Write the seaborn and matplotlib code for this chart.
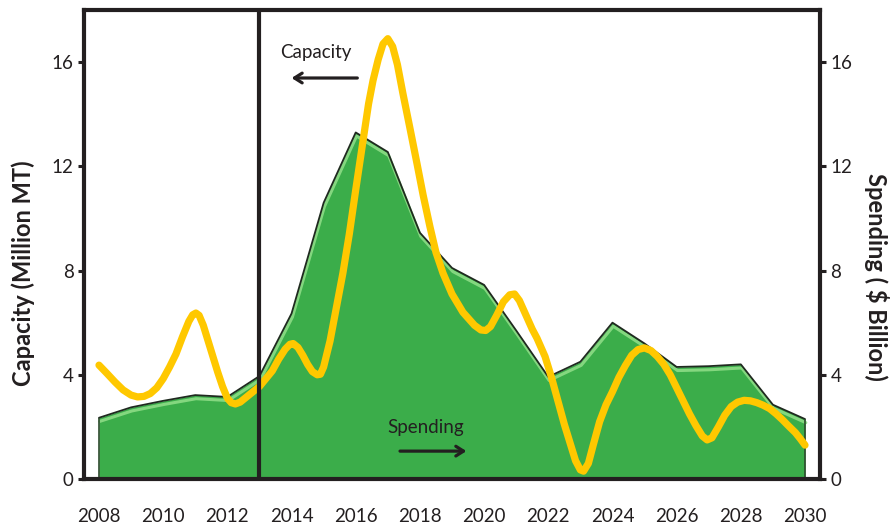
import matplotlib
matplotlib.use("Agg")
import matplotlib.pyplot as plt
import matplotlib.patheffects as pe
import seaborn as sns
import pandas as pd

# ---- data ----
spend_years = [2008, 2009, 2010, 2011, 2012, 2013, 2014, 2015, 2016, 2017, 2018,
               2019, 2020, 2021, 2022, 2023, 2024, 2025, 2026, 2027, 2028, 2029, 2030]
spending = [2.35, 2.75, 3.0, 3.22, 3.15, 3.95, 6.35, 10.6, 13.3, 12.55, 9.45,
            8.1, 7.45, 5.7, 3.92, 4.5, 6.0, 5.2, 4.3, 4.33, 4.4, 2.85, 2.3]

cap_years = [2008.0, 2008.25, 2008.5, 2008.75, 2009.0, 2009.2, 2009.4, 2009.6, 2009.8,
             2010.0, 2010.2, 2010.4, 2010.6, 2010.8, 2010.92, 2011.02, 2011.12, 2011.25,
             2011.4, 2011.55, 2011.7, 2011.85, 2012.0, 2012.12, 2012.25, 2012.4, 2012.6,
             2012.8, 2013.0, 2013.2, 2013.4, 2013.6, 2013.8, 2013.95, 2014.05, 2014.2,
             2014.35, 2014.5, 2014.65, 2014.8, 2014.9, 2015.0, 2015.2, 2015.4, 2015.6,
             2015.8, 2016.0, 2016.23, 2016.4, 2016.54, 2016.7, 2016.85, 2017.0, 2017.15,
             2017.3, 2017.47, 2017.7, 2017.91, 2018.1, 2018.31, 2018.5, 2018.72, 2019.0,
             2019.34, 2019.7, 2019.9, 2020.05, 2020.2, 2020.4, 2020.6, 2020.8, 2020.95,
             2021.1, 2021.3, 2021.5, 2021.65, 2021.9, 2022.1, 2022.3, 2022.5, 2022.7,
             2022.85, 2023.0, 2023.1, 2023.25, 2023.4, 2023.6, 2023.8, 2024.0, 2024.2,
             2024.4, 2024.6, 2024.8, 2025.0, 2025.2, 2025.4, 2025.6, 2025.8, 2026.0,
             2026.2, 2026.4, 2026.6, 2026.8, 2026.95, 2027.1, 2027.3, 2027.5, 2027.7,
             2027.9, 2028.1, 2028.3, 2028.5, 2028.7, 2028.9, 2029.1, 2029.3, 2029.5,
             2029.7, 2029.85, 2030.0]
capacity = [4.37, 4.05, 3.72, 3.42, 3.22, 3.15, 3.17, 3.28, 3.5,
            3.85, 4.3, 4.8, 5.45, 6.05, 6.3, 6.37, 6.28, 5.9,
            5.3, 4.7, 4.1, 3.55, 3.1, 2.93, 2.88, 2.95, 3.15,
            3.35, 3.55, 3.85, 4.15, 4.6, 4.98, 5.17, 5.2, 5.05,
            4.75, 4.4, 4.12, 4.0, 4.02, 4.3, 5.3, 6.6, 7.9,
            9.4, 11.1, 13.0, 14.4, 15.3, 16.1, 16.7, 16.9, 16.6,
            15.9, 14.8, 13.4, 12.1, 10.9, 9.7, 8.7, 7.9, 7.1,
            6.4, 5.9, 5.72, 5.7, 5.85, 6.3, 6.8, 7.07, 7.1,
            6.85, 6.3, 5.75, 5.4, 4.7, 3.9, 3.0, 2.1, 1.3,
            0.7, 0.35, 0.3, 0.6, 1.3, 2.2, 2.85, 3.35, 3.9,
            4.35, 4.75, 4.97, 5.03, 4.93, 4.7, 4.4, 4.0, 3.5,
            3.0, 2.5, 2.05, 1.65, 1.5, 1.58, 2.0, 2.45, 2.78,
            2.95, 3.02, 3.0, 2.93, 2.83, 2.7, 2.5, 2.27, 2.02,
            1.78, 1.55, 1.3]

xtick_years = list(range(2008, 2031, 2))
ytick_vals = [0, 4, 8, 12, 16]
odd_minor_ticks = [2008.53, 2026.48]
divider_year = 2013

# ---- styling ----
sns.set_style("white")
plt.rcParams["font.family"] = ["Lato", "DejaVu Sans"]
INK = "#231f20"
GREEN = "#3bad4a"
YELLOW = "#ffc800"
TICK_FS = 13.5
LABEL_FS = 17

fig = plt.figure(figsize=(8.9, 5.27), dpi=100)
ax = fig.add_axes([84 / 890, 1 - 479 / 527, 736 / 890, 469 / 527])

df_s = pd.DataFrame({"year": spend_years, "spending": spending})
df_c = pd.DataFrame({"year": cap_years, "capacity": capacity})

# green area (spending)
ax.fill_between(df_s["year"], df_s["spending"], 0, color=GREEN, lw=0, zorder=1)
sns.lineplot(data=df_s, x="year", y="spending", ax=ax, color="#1f2a1f", lw=1.3,
             zorder=2,
             path_effects=[pe.SimpleLineShadow(offset=(0.6, -2.6), shadow_color="#8ddc86",
                                               alpha=0.9, linewidth=2.2),
                           pe.Normal()])
ax.vlines([spend_years[0], spend_years[-1]], 0, [spending[0], spending[-1]],
          color="#2c4a2c", lw=1.2, zorder=2)

# yellow line (capacity)
sns.lineplot(data=df_c, x="year", y="capacity", ax=ax, color=YELLOW, lw=5.2,
             zorder=3, sort=False)
ax.lines[-1].set_solid_joinstyle("round")
ax.lines[-1].set_solid_capstyle("round")

# vertical divider
ax.axvline(divider_year, color=INK, lw=3.0, zorder=4)

ax.set_xlim(2007.533, 2030.467)
ax.set_ylim(0, 18)
ax.set_xticks(xtick_years)
ax.set_xticklabels([str(y) for y in xtick_years])
ax.set_xticks(odd_minor_ticks, minor=True)
ax.set_yticks(ytick_vals)
ax.set_yticklabels([str(v) for v in ytick_vals])
ax.tick_params(axis="x", which="major", length=0, pad=21, labelsize=TICK_FS, colors=INK)
ax.tick_params(axis="x", which="minor", length=7, width=2.5, direction="out", color=INK)
ax.tick_params(axis="y", length=4.5, width=2.2, direction="out", pad=3,
               labelsize=TICK_FS, colors=INK, left=True)
ax.set_xlabel("")
ax.set_ylabel("Capacity (Million MT)", fontsize=LABEL_FS, fontweight="bold", color=INK,
              va="center")
ax.yaxis.set_label_coords(-0.0829, 0.439)
for s in ax.spines.values():
    s.set_visible(True)
    s.set_linewidth(3.0)
    s.set_color(INK)

ax2 = ax.twinx()
ax2.set_ylim(0, 18)
ax2.set_yticks(ytick_vals)
ax2.set_yticklabels([str(v) for v in ytick_vals])
ax2.tick_params(axis="y", length=4.5, width=2.2, direction="out", pad=3,
                labelsize=TICK_FS, colors=INK, right=True)
ax2.set_ylabel("Spending ( \\$ Billion)", fontsize=LABEL_FS, fontweight="bold", color=INK,
               rotation=270)
ax2.yaxis.label.set_verticalalignment("center")
ax2.yaxis.set_label_coords(1.0774, 0.43)
for s in ax2.spines.values():
    s.set_visible(False)

# annotations
ax.text(2014.76, 16.38, "Capacity", ha="center", va="center", fontsize=TICK_FS, color=INK,
        zorder=6)
ax.annotate("", xy=(2014.0, 15.39), xytext=(2016.05, 15.39),
            arrowprops=dict(arrowstyle="->,head_length=0.55,head_width=0.35",
                            color=INK, lw=2.3, shrinkA=0, shrinkB=0), zorder=6)
ax.text(2018.19, 1.96, "Spending", ha="center", va="center", fontsize=TICK_FS, color=INK,
        zorder=6)
ax.annotate("", xy=(2019.45, 1.07), xytext=(2017.38, 1.07),
            arrowprops=dict(arrowstyle="->,head_length=0.55,head_width=0.35",
                            color=INK, lw=2.3, shrinkA=0, shrinkB=0), zorder=6)

fig.savefig("out.png", dpi=100)
